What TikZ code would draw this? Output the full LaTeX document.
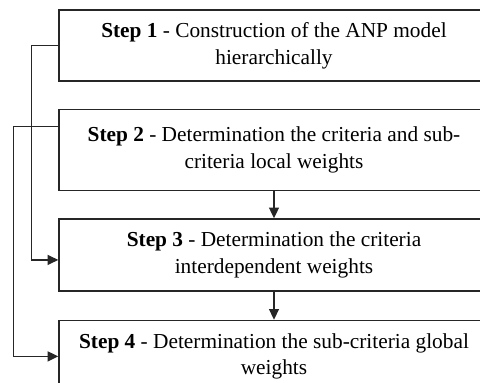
\documentclass[tikz,border=0pt]{standalone}
\usepackage{fontspec}
\setmainfont{Liberation Serif}
\usetikzlibrary{arrows.meta, positioning}
\definecolor{linegray}{HTML}{262626}

\begin{document}
\begin{tikzpicture}[x=0.75pt, y=-0.75pt, >={Triangle[length=8pt, width=7.5pt]}, line width=1.1pt,
  stepbox/.style={draw=linegray, minimum width=322.5pt, align=center, inner sep=0pt,
    font=\fontsize{16}{20}\selectfont},
  node distance=20.25pt]

% Frame
\useasboundingbox (0,0) rectangle (480,383);
\clip (0,0) rectangle (480,383);

% =========== Steps ===========
\node[stepbox, minimum height=53.25pt] (s1) at (274,45.5)
  {\textbf{Step 1} - Construction of the ANP model\\hierarchically};
\node[stepbox, minimum height=60.75pt, below=of s1] (s2)
  {\textbf{Step 2} - Determination the criteria and sub-\\criteria local weights};
\node[stepbox, minimum height=54pt, below=of s2] (s3)
  {\textbf{Step 3} - Determination the criteria\\interdependent weights};
\node[stepbox, minimum height=54pt, below=21pt of s3] (s4)
  {\textbf{Step 4} - Determination the sub-criteria global\\weights};

% =========== Connectors ===========
\draw[->, linegray] (s2) -- (s3);
\draw[->, linegray] (s3) -- (s4);

% Bypass lines on the left
\draw[->, linegray] (s1.west) -- ++(-27,0) |- ([yshift=-3.75pt]s3.west);
\draw[->, linegray] ([yshift=-13.5pt]s2.north west) -- ++(-45,0) |- (s4.west);

\end{tikzpicture}
\end{document}
